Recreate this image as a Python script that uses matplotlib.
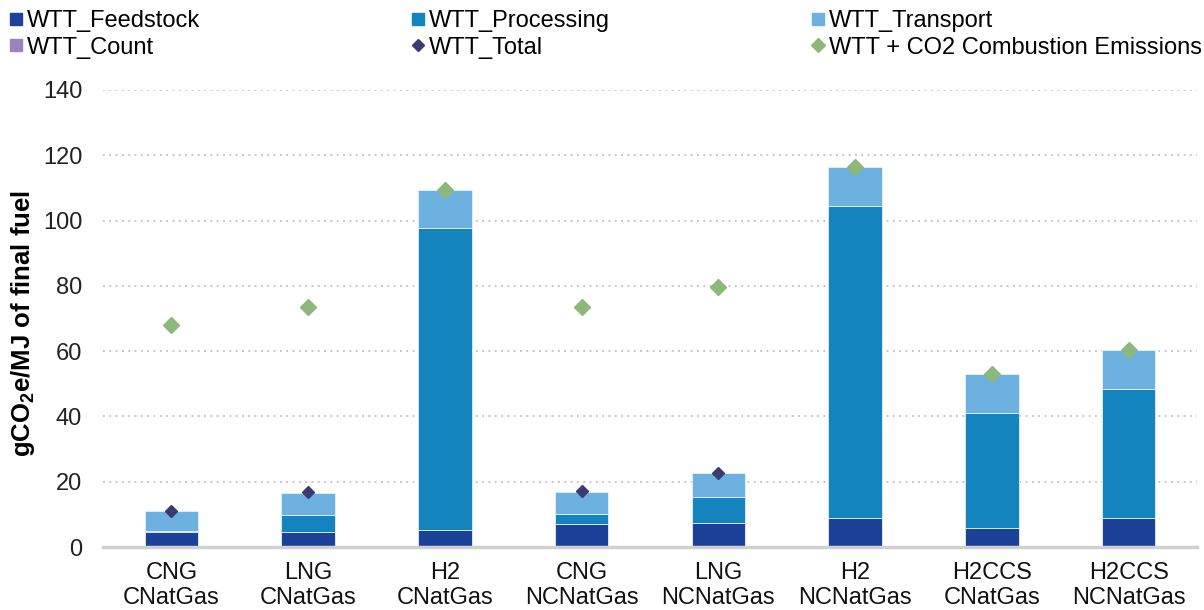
import numpy as np
import matplotlib
matplotlib.use("Agg")
from matplotlib import pyplot as plt
from matplotlib.lines import Line2D

plt.rcParams['font.family'] = ['Liberation Sans', 'DejaVu Sans']
plt.rcParams['mathtext.fontset'] = 'custom'
plt.rcParams['mathtext.rm'] = 'Liberation Sans:bold'
plt.rcParams['mathtext.bf'] = 'Liberation Sans:bold'
plt.rcParams['mathtext.default'] = 'bf'

# values (gCO2e/MJ)
categories = ['CNG\nCNatGas', 'LNG\nCNatGas', 'H2\nCNatGas', 'CNG\nNCNatGas',
              'LNG\nNCNatGas', 'H2\nNCNatGas', 'H2CCS\nCNatGas', 'H2CCS\nNCNatGas']
feedstock = [4.7, 4.7, 5.3, 7.0, 7.4, 9.0, 5.8, 9.0]
processing = [0.1, 5.2, 92.4, 3.2, 8.0, 95.5, 35.2, 39.4]
transport = [6.3, 6.7, 11.7, 6.7, 7.3, 12.0, 12.1, 11.9]
count = [0, 0, 0, 0, 0, 0, 0, 0]
wtt_total = [11.1, 16.7, 109.4, 17.1, 22.7, 116.5, 53.1, 60.3]
wtt_co2 = [68.0, 73.5, 109.4, 73.5, 79.7, 116.5, 53.1, 60.3]

c_feed = '#1B4199'
c_proc = '#1484BF'
c_trans = '#6DB1E1'
c_count = '#9B84BC'
c_total = '#3B3A73'
c_co2 = '#8DB87C'

FS = 17
W, H = 1204, 610

fig = plt.figure(figsize=(W / 100, H / 100), dpi=100)
ax = fig.add_axes([103 / W, 1 - 547 / H, (1197 - 103) / W, (547 - 90) / H])

x = np.arange(len(categories))
w = 0.39
b1 = np.array(feedstock)
b2 = b1 + np.array(processing)
b3 = b2 + np.array(transport)
ax.bar(x, feedstock, w, color=c_feed, edgecolor='#E8F0F8', linewidth=0.6, zorder=2)
ax.bar(x, processing, w, bottom=b1, color=c_proc, edgecolor='#E8F0F8', linewidth=0.6, zorder=2)
ax.bar(x, transport, w, bottom=b2, color=c_trans, edgecolor='#E8F0F8', linewidth=0.6, zorder=2)
ax.bar(x, count, w, bottom=b3, color=c_count, linewidth=0, zorder=2)
ax.plot(x, wtt_total, 'D', color=c_total, markersize=6.5, zorder=3)
ax.plot(x, wtt_co2, 'D', color=c_co2, markersize=8.3, zorder=4)

ax.set_xlim(-0.5, len(categories) - 0.5)
ax.set_ylim(0, 140)
ax.set_yticks(np.arange(0, 141, 20))
ax.set_xticks(x)
ax.set_xticklabels(categories, fontsize=FS, linespacing=1.15)
ax.tick_params(axis='x', length=0, pad=11, colors='#111111')
ax.tick_params(axis='y', length=0, pad=15, labelsize=FS, colors='#222222')
ax.yaxis.grid(True, linestyle=(0, (1, 2.5)), color='#BFBFBF', linewidth=1.3, zorder=0)
ax.set_axisbelow(True)
for s in ['top', 'right', 'left']:
    ax.spines[s].set_visible(False)
ax.spines['bottom'].set_color('#D0D0D0')
ax.spines['bottom'].set_linewidth(2.5)
ax.spines['bottom'].set_zorder(5)

fig.text(23 / W, 1 - 323 / H, r'gCO$_2$e/MJ of final fuel', rotation=90, fontsize=18.5,
         fontweight='bold', ha='center', va='center')

def h(marker, color, size):
    return Line2D([], [], marker=marker, color=color, linestyle='none', markersize=size)

cols = [
    (10, [(h('s', c_feed, 9.2), 'WTT_Feedstock'), (h('s', c_count, 9.2), 'WTT_Count')]),
    (412, [(h('s', c_proc, 9.2), 'WTT_Processing'), (h('D', c_total, 6.3), 'WTT_Total')]),
    (812, [(h('s', c_trans, 9.2), 'WTT_Transport'), (h('D', c_co2, 7.5), 'WTT + CO2 Combustion Emissions')]),
]
for xpos, entries in cols:
    fig.legend([e[0] for e in entries], [e[1] for e in entries], loc='upper left',
               bbox_to_anchor=(xpos / W, 1 - 10 / H), frameon=False, fontsize=FS,
               handlelength=0.55, handletextpad=0.18, labelspacing=0.2,
               borderaxespad=0, borderpad=0)

fig.savefig('out.png', dpi=100)
